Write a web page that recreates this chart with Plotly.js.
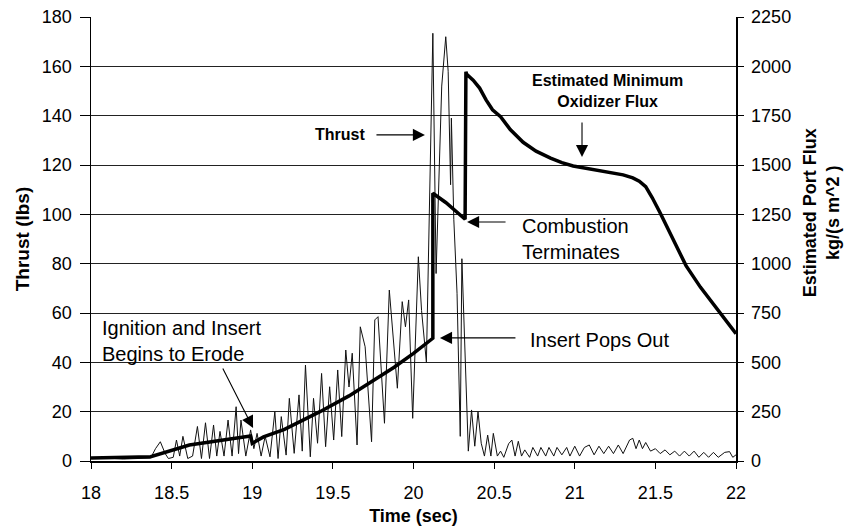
<!DOCTYPE html>
<html>
<head>
<meta charset="utf-8">
<script src="https://cdn.plot.ly/plotly-3.0.1.min.js"></script>
<style>html,body{margin:0;padding:0;background:#fff;}#chart{width:851px;height:531px;}</style>
</head>
<body>
<div id="chart"></div>
<script>
// Thrust (lbs), thin oscillating line
var thrustTime = [18.00,18.10,18.20,18.30,18.37,18.40,18.43,18.46,18.48,18.51,18.53,18.55,18.57,18.60,18.63,18.66,18.685,18.71,18.735,18.76,18.78,18.80,18.825,18.85,18.875,18.90,18.915,18.93,18.96,18.99,19.01,19.03,19.055,19.08,19.11,19.14,19.16,19.18,19.21,19.23,19.26,19.29,19.31,19.33,19.36,19.38,19.405,19.43,19.455,19.48,19.505,19.53,19.555,19.58,19.60,19.62,19.65,19.67,19.70,19.74,19.76,19.78,19.82,19.85,19.90,19.93,19.95,19.97,19.995,20.03,20.05,20.08,20.12,20.14,20.175,20.20,20.215,20.23,20.235,20.25,20.27,20.29,20.30,20.34,20.36,20.38,20.40,20.42,20.44,20.46,20.48,20.495,20.52,20.54,20.56,20.59,20.61,20.63,20.65,20.67,20.69,20.72,20.74,20.77,20.79,20.82,20.84,20.87,20.89,20.92,20.95,20.97,21.00,21.03,21.06,21.09,21.12,21.15,21.18,21.21,21.24,21.27,21.30,21.34,21.36,21.38,21.40,21.42,21.44,21.47,21.50,21.53,21.56,21.59,21.62,21.65,21.68,21.71,21.74,21.77,21.80,21.83,21.86,21.89,21.93,21.96,21.98,22.00];
var thrustLbs = [1.0,1.2,0.8,1.0,1.2,5,7.8,3,1,1.5,8.5,2,10,1,2,14,1,15.5,1,14.6,2,12,2,16.6,2,22,3,16.6,2,12.6,5,11.2,2,10,1.7,20,1,18,2.4,25.4,3.1,26.8,4,38.9,1.7,25.4,7.2,35.5,5.8,30.1,8.5,36.9,9.9,45,30,43.7,6.5,54.4,46.3,7.8,57.2,58.5,15.3,69.3,29.5,64.6,54.4,65.3,17.3,82.8,61,40,173.4,76,152,172,158,112,139,98,68,10,82,4,20.7,6,20,7.2,2,10.5,2,11.2,2,4,1.5,7,8.5,2,8,2,4.5,1.5,5.5,2,5.5,2,5.5,2,5.5,2.5,5.5,2,6,2,5.5,6.5,2.5,6,3,6,3,6.5,3,8.5,9.2,5,8.5,5,7.5,4,5,3,4.5,2.5,4,2,4,2,4,1.5,3.5,1.5,3.5,1.5,3.5,3.8,1.5,2.5];

// Estimated port flux kg/(s m^2), thick line
var fluxTime = [18.00,18.37,18.61,18.99,19.00,19.07,19.20,19.30,19.42,19.60,19.75,19.88,20.00,20.12,20.12,20.20,20.32,20.325,20.33,20.37,20.41,20.45,20.49,20.54,20.60,20.68,20.76,20.85,20.92,20.99,21.10,21.20,21.30,21.36,21.40,21.44,21.48,21.53,21.60,21.69,21.78,21.90,22.00];
var fluxVal = [15,22,81,127,90,122,160,200,250,330,405,475,545,622,1357,1310,1225,1973,1960,1930,1890,1830,1780,1745,1680,1615,1570,1535,1512,1495,1480,1466,1450,1435,1418,1390,1335,1257,1140,990,880,750,645];

var xTickVals = [18,18.5,19,19.5,20,20.5,21,21.5,22];
var xTickText = ['18','18.5','19','19.5','20','20.5','21','21.5','22'];
var yTickVals = [0,20,40,60,80,100,120,140,160,180];
var y2TickVals = [0,250,500,750,1000,1250,1500,1750,2000,2250];

var F = 'Arial, "Liberation Sans", sans-serif';

var traces = [
  {x: thrustTime, y: thrustLbs, type: 'scatter', mode: 'lines', name: 'Thrust',
   line: {color: '#111', width: 1}, yaxis: 'y'},
  {x: fluxTime, y: fluxVal, type: 'scatter', mode: 'lines', name: 'Flux',
   line: {color: '#000', width: 3.5, shape: 'linear'}, yaxis: 'y2'}
];

function arrow(x, y, ax, ay) {
  return {x: x, y: y, xref: 'x', yref: 'y', ax: ax, ay: ay, text: '', showarrow: true,
          arrowhead: 2, arrowsize: 2.2, arrowwidth: 1.1, arrowcolor: '#000'};
}

var layout = {
  width: 851, height: 531,
  margin: {l: 91, r: 115, t: 17, b: 70},
  paper_bgcolor: '#fff', plot_bgcolor: '#fff',
  showlegend: false,
  font: {family: F, color: '#000', size: 18},
  xaxis: {range: [18, 22], tickvals: xTickVals, ticktext: xTickText,
          ticks: 'outside', ticklen: 6, tickcolor: '#000', showline: true, linecolor: '#000', linewidth: 1.5,
          showgrid: false, zeroline: false, ticklabelstandoff: 9,
          title: {text: '<b>Time (sec)</b>', font: {size: 18}, standoff: 7}},
  yaxis: {range: [0, 180], tickvals: yTickVals, ticks: 'outside', ticklen: 10, tickcolor: '#000',
          showline: true, linecolor: '#000', linewidth: 1.5, showgrid: true, gridcolor: '#222', gridwidth: 1,
          zeroline: false, ticklabelstandoff: 4,
          title: {text: '<b>Thrust (lbs)</b>', font: {size: 19}, standoff: 7}},
  yaxis2: {range: [0, 2250], tickvals: y2TickVals, overlaying: 'y', side: 'right', anchor: 'x',
           ticks: 'outside', ticklen: 6, tickcolor: '#000', showline: true, linecolor: '#000', linewidth: 1.5,
           showgrid: false, zeroline: false, ticklabelstandoff: 4},
  annotations: [
    {x: 1.168, y: 0.56, xref: 'paper', yref: 'paper', text: '<b>Estimated Port Flux<br>kg/(s m^2 )</b>',
     textangle: -90, showarrow: false, font: {size: 18}, align: 'center'},
    {x: 19.544, y: 132.2, xref: 'x', yref: 'y', text: '<b>Thrust</b>', showarrow: false, font: {size: 16}},
    {x: 21.203, y: 150, xref: 'x', yref: 'y', text: '<b>Estimated Minimum<br>Oxidizer Flux</b>', showarrow: false, font: {size: 16}, align: 'center'},
    {x: 20.66, y: 89.8, xref: 'x', yref: 'y', text: 'Combustion<br>Terminates', showarrow: false, font: {size: 20}, align: 'left', xanchor: 'left'},
    {x: 20.71, y: 49, xref: 'x', yref: 'y', text: 'Insert Pops Out', showarrow: false, font: {size: 20}, align: 'left', xanchor: 'left'},
    {x: 18.056, y: 48.8, xref: 'x', yref: 'y', text: 'Ignition and Insert<br>Begins to Erode', showarrow: false, font: {size: 20}, align: 'left', xanchor: 'left'},
    arrow(20.071, 132.2, -50, 0),
    arrow(21.045, 123.2, 0, -36),
    arrow(20.332, 96.9, 40, 0),
    arrow(20.164, 49.9, 77, 0),
    arrow(19.005, 13.4, -31, -61)
  ]
};

Plotly.newPlot('chart', traces, layout, {displayModeBar: false, staticPlot: true});
</script>
</body>
</html>
